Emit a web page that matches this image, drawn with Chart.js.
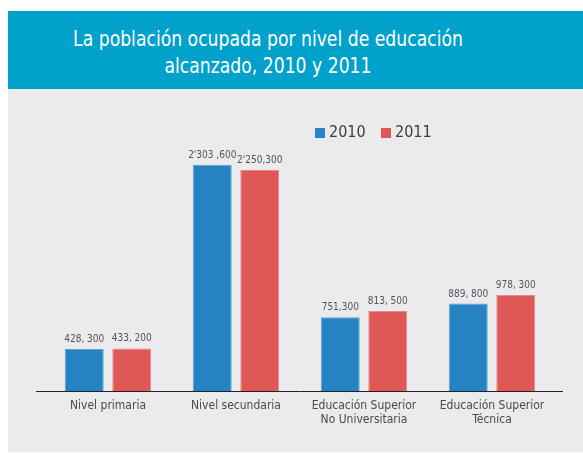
<!DOCTYPE html>
<html>
<head>
<meta charset="utf-8">
<script src="https://cdn.jsdelivr.net/npm/chart.js@4.4.0/dist/chart.umd.min.js"></script>
<style>
  body { margin: 0; background: #fff; width: 583px; height: 453px; overflow: hidden; position: relative; font-family: "DejaVu Sans Condensed", sans-serif; }
  #header { position: absolute; left: 8px; top: 11px; width: 575px; height: 78px; background: #00a2cb; }
  #header h1 { margin: 0; position: absolute; left: 0; width: 520px; top: 14px; text-align: center; color: #fff; font-weight: normal; font-size: 22px; line-height: 27px; transform: scaleX(0.87); transform-origin: 260px 0; }
  #panel { position: absolute; left: 8px; top: 89px; width: 575px; height: 363px; background: #ebebed; }
  #legend { position: absolute; left: 307px; top: 35px; font-size: 16px; color: #3d3d3d; }
  #legend span.item { position: absolute; white-space: nowrap; }
  #legend i { position: absolute; width: 10px; height: 10px; top: 4px; left: 0; }
  #legend b { position: absolute; left: 14px; top: -2px; font-weight: normal; }
</style>
</head>
<body>
<div id="header"><h1>La población ocupada por nivel de educación<br>alcanzado, 2010 y 2011</h1></div>
<div id="panel">
  <canvas id="myChart" width="575" height="363"></canvas>
  <div id="legend"></div>
</div>
<script>
const categories = [["Nivel primaria"], ["Nivel secundaria"], ["Educación Superior", "No Universitaria"], ["Educación Superior", "Técnica"]];
const seriesNames = ["2010", "2011"];
const values2010 = [428300, 2303600, 751300, 889800];
const values2011 = [433200, 2250300, 813500, 978300];
const labels2010 = ["428, 300", "2'303 ,600", "751,300", "889, 800"];
const labels2011 = ["433, 200", "2'250,300", "813, 500", "978, 300"];
const colors = ["#2684c4", "#e05855"];
const edgeColors = ["#5fa2d3", "#ea8784"];

const fontFamily = '"DejaVu Sans Condensed", sans-serif';

// value labels over each bar + baseline
const extras = {
    id: 'extras',
    afterDatasetsDraw(chart) {
        const ctx = chart.ctx;
        const area = chart.chartArea;
        const y0 = chart.scales.y.getPixelForValue(0);
        ctx.save();
        ctx.strokeStyle = '#222';
        ctx.lineWidth = 1;
        ctx.beginPath();
        ctx.moveTo(area.left - 8, y0 + 0.5);
        ctx.lineTo(area.right + 7, y0 + 0.5);
        ctx.stroke();

        ctx.font = '10px ' + fontFamily;
        ctx.fillStyle = '#555';
        ctx.textAlign = 'center';
        ctx.textBaseline = 'alphabetic';
        chart.data.datasets.forEach((ds, i) => {
            const meta = chart.getDatasetMeta(i);
            meta.data.forEach((bar, j) => {
                ctx.fillText(ds.valueLabels[j], bar.x, bar.y - 7);
            });
        });
        ctx.restore();
    }
};

const ctx = document.getElementById('myChart').getContext('2d');
const myChart = new Chart(ctx, {
    type: 'bar',
    data: {
        labels: categories,
        datasets: [{
            label: seriesNames[0],
            data: values2010,
            valueLabels: labels2010,
            backgroundColor: colors[0],
            borderColor: edgeColors[0],
            borderWidth: 1
        }, {
            label: seriesNames[1],
            data: values2011,
            valueLabels: labels2011,
            backgroundColor: colors[1],
            borderColor: edgeColors[1],
            borderWidth: 1
        }]
    },
    options: {
        responsive: false,
        animation: false,
        categoryPercentage: 0.742,
        barPercentage: 0.82,
        layout: { padding: { left: 36, right: 27, top: 27, bottom: 0 } },
        plugins: {
            legend: { display: false },
            tooltip: { enabled: false }
        },
        scales: {
            y: {
                display: false,
                min: 0,
                max: 2800000
            },
            x: {
                grid: { display: false },
                border: { display: false },
                afterFit: s => { s.height = 61; },
                ticks: {
                    color: '#4a4a4a',
                    padding: 0,
                    maxRotation: 0,
                    autoSkip: false,
                    font: { family: fontFamily, size: 12, lineHeight: 1.15 }
                }
            }
        }
    },
    plugins: [extras]
});

const legend = document.getElementById('legend');
seriesNames.forEach((name, i) => {
    const item = document.createElement('span');
    item.className = 'item';
    item.style.left = (i * 66) + 'px';
    item.innerHTML = '<i style="background:' + colors[i] + '"></i><b>' + name + '</b>';
    legend.appendChild(item);
});
</script>
</body>
</html>
